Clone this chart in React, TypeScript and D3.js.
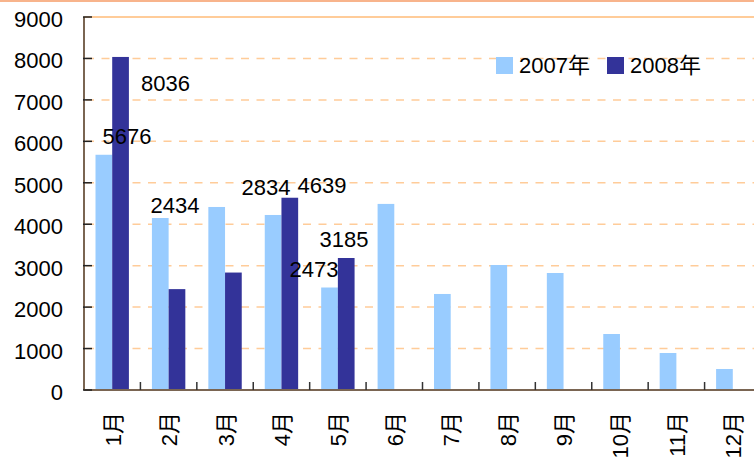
import React from "react";
import * as d3 from "d3";

const months = ["1月", "2月", "3月", "4月", "5月", "6月", "7月", "8月", "9月", "10月", "11月", "12月"];
const series2007 = [5676, 4150, 4416, 4223, 2473, 4490, 2317, 3016, 2823, 1351, 893, 507];
const series2008 = [8036, 2434, 2834, 4639, 3185, null, null, null, null, null, null, null];
const seriesNames = ["2007年", "2008年"];
const yTicks = [0, 1000, 2000, 3000, 4000, 5000, 6000, 7000, 8000, 9000];
// data labels: text, anchor position in month units and value units
const labelTexts = ["8036", "5676", "2434", "2834", "4639", "3185", "2473"];
const labelMonthPos = [1.445, 0.762, 1.613, 3.227, 4.22, 4.61, 4.078];
const labelValuePos = [7215, 5936, 4271, 4706, 4754, 3451, 2727];

const W = 754;
const H = 459;
const FONT = "'Liberation Sans', Arial, 'Noto Sans CJK SC', sans-serif";
const C2007 = "#99CCFF";
const C2008 = "#333399";

export default function App() {
  const left = 84;
  const right = 761;
  const top = 17;
  const bottom = 390;
  const x = d3.scaleBand<string>().domain(months).range([left, right]).padding(0);
  const xc = d3.scaleLinear().domain([0, 12]).range([left, right]);
  const y = d3.scaleLinear().domain([0, 9000]).range([bottom, top]);
  const bw = x.bandwidth() * 0.296;

  return (
    <svg width={W} height={H} style={{ position: "absolute", left: 0, top: 0, display: "block", background: "#fff" }} fontFamily={FONT}>
      <line x1={0} x2={W} y1={1} y2={1} stroke="#F8B48C" strokeWidth={2} />
      {/* gridlines */}
      {yTicks.filter((t) => t > 0 && t < 9000).map((t) => (
        <line key={t} x1={left + 2} x2={W} y1={y(t)} y2={y(t)} stroke="#FFCC99" strokeWidth={1.5} strokeDasharray="8,7.5" />
      ))}
      <line x1={left} x2={W} y1={y(9000)} y2={y(9000)} stroke="#FFCC99" strokeWidth={2} />
      {/* bars */}
      {months.map((m, i) => {
        const c = (x(m) as number) + x.bandwidth() / 2;
        const v1 = series2007[i];
        const v2 = series2008[i];
        return (
          <g key={m}>
            <rect x={c - bw} y={y(v1)} width={bw} height={bottom - y(v1)} fill={C2007} />
            {v2 != null && <rect x={c} y={y(v2)} width={bw} height={bottom - y(v2)} fill={C2008} />}
          </g>
        );
      })}
      {/* axes */}
      <line x1={left} x2={left} y1={top} y2={bottom} stroke="#7A6552" strokeWidth={2} />
      <line x1={left} x2={W} y1={bottom} y2={bottom} stroke="#7A6552" strokeWidth={2} />
      {yTicks.map((t) => (
        <line key={t} x1={left - 1} x2={left + 8} y1={y(t)} y2={y(t)} stroke="#222" strokeWidth={1.5} />
      ))}
      {months.slice(1).map((m) => (
        <line key={m} x1={x(m) as number} x2={x(m) as number} y1={bottom} y2={bottom - 8} stroke="#333" strokeWidth={1.5} />
      ))}
      {yTicks.map((t) => (
        <text key={t} x={63} y={y(t) + 2.5} textAnchor="end" dominantBaseline="central" fontSize={22} fill="#000">
          {t}
        </text>
      ))}
      {months.map((m) => {
        const c = (x(m) as number) + x.bandwidth() / 2;
        return (
          <text key={m} transform={`translate(${c + 1},412) rotate(-90)`} textAnchor="end" dominantBaseline="central" fontSize={22} fill="#000">
            {m}
          </text>
        );
      })}
      {/* data labels */}
      {labelTexts.map((t, i) => (
        <text key={t} x={xc(labelMonthPos[i])} y={y(labelValuePos[i])} textAnchor="middle" fontSize={22} fill="#000">
          {t}
        </text>
      ))}
      {/* legend */}
      <rect x={496} y={57} width={17} height={17} fill={C2007} />
      <text x={519} y={73} fontSize={22} fill="#000">{seriesNames[0]}</text>
      <rect x={607} y={57} width={17} height={17} fill={C2008} />
      <text x={630} y={73} fontSize={22} fill="#000">{seriesNames[1]}</text>
    </svg>
  );
}
